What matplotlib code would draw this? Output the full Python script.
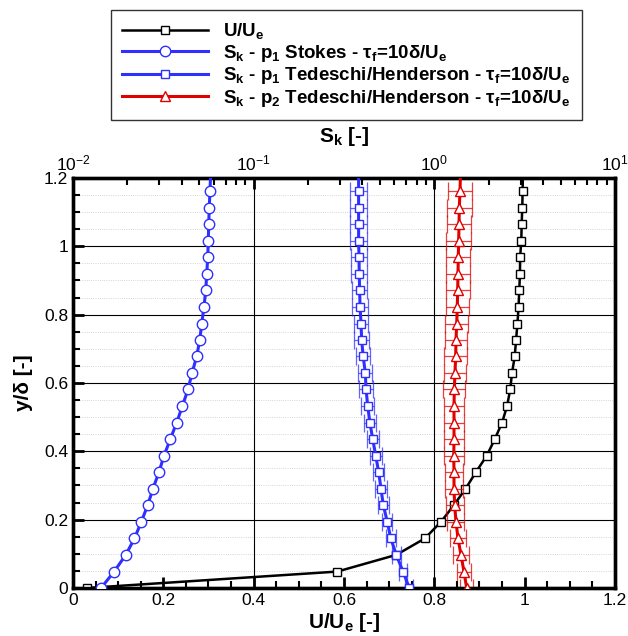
import matplotlib
matplotlib.use("Agg")
from matplotlib import pyplot as plt
from matplotlib.ticker import MultipleLocator, FuncFormatter, LogLocator
import numpy as np

plt.rcParams['font.family'] = ['Liberation Sans', 'DejaVu Sans']
plt.rcParams['mathtext.fontset'] = 'custom'
plt.rcParams['mathtext.rm'] = 'Liberation Sans'
plt.rcParams['mathtext.bf'] = 'Liberation Sans:bold'
plt.rcParams['mathtext.it'] = 'Liberation Sans:italic'

# wall-normal positions y/delta (last point only carries the line to the top)
y_delta = [0.0, 0.048, 0.097, 0.145, 0.194, 0.242, 0.290, 0.339, 0.387, 0.436,
           0.484, 0.532, 0.581, 0.629, 0.678, 0.726, 0.774, 0.823, 0.871, 0.920,
           0.968, 1.016, 1.065, 1.113, 1.162, 1.210]

# mean velocity U/Ue
u_ue = [0.031, 0.585, 0.716, 0.779, 0.815, 0.843, 0.869, 0.892, 0.916, 0.934,
        0.950, 0.961, 0.968, 0.972, 0.978, 0.981, 0.984, 0.9865, 0.988, 0.9896,
        0.990, 0.9925, 0.9934, 0.9947, 0.9955, 0.996]

# Stokes number, p1, Stokes drag
sk_p1_stokes = [0.0143, 0.0169, 0.0196, 0.0219, 0.0239, 0.0259, 0.0277, 0.0299,
                0.0319, 0.0346, 0.0375, 0.0403, 0.0433, 0.0456, 0.0484, 0.0503,
                0.0516, 0.0531, 0.0543, 0.0550, 0.0557, 0.0561, 0.0564, 0.0568,
                0.0573, 0.0578]

# Stokes number, p1, Tedeschi/Henderson (error half-width in decades)
sk_p1_ted = [0.727, 0.671, 0.616, 0.574, 0.549, 0.522, 0.507, 0.492, 0.474,
             0.456, 0.440, 0.428, 0.419, 0.415, 0.404, 0.396, 0.393, 0.388,
             0.386, 0.384, 0.383, 0.381, 0.381, 0.381, 0.381, 0.381]
err_p1_ted = [0.022, 0.023, 0.025, 0.027, 0.028, 0.030, 0.031, 0.032, 0.033,
              0.034, 0.035, 0.036, 0.037, 0.038, 0.039, 0.040, 0.041, 0.042,
              0.043, 0.044, 0.045, 0.046, 0.046, 0.047, 0.047, 0.047]

# Stokes number, p2, Tedeschi/Henderson
sk_p2_ted = [1.510, 1.459, 1.405, 1.352, 1.318, 1.296, 1.285, 1.285, 1.281,
             1.285, 1.285, 1.285, 1.290, 1.301, 1.313, 1.318, 1.330, 1.340,
             1.347, 1.352, 1.357, 1.364, 1.370, 1.375, 1.387, 1.395]
err_p2_ted = [0.035, 0.040, 0.042, 0.045, 0.047, 0.050, 0.050, 0.052, 0.054,
              0.055, 0.056, 0.058, 0.060, 0.060, 0.062, 0.063, 0.064, 0.065,
              0.066, 0.066, 0.067, 0.068, 0.068, 0.068, 0.068, 0.068]

BLUE = '#2F2FFF'
RED = '#E00000'
shown = slice(0, 25)

fig = plt.figure(figsize=(6.28, 6.36), dpi=100)
ax = fig.add_axes([0.1162, 0.0755, 0.8631, 0.6447])
ax2 = ax.twiny()

ax.plot(u_ue, y_delta, color='black', lw=1.8, marker='s', ms=6, mfc='white',
        mec='black', mew=1.0, markevery=shown, zorder=3, label='U/U$_{\\mathbf{e}}$')

s1 = np.array(sk_p1_stokes)
ax2.plot(s1, y_delta, color=BLUE, lw=2.2, marker='o', ms=7.5, mfc='white',
         mec=BLUE, mew=1.0, markevery=shown, zorder=3,
         label='S$_{\\mathbf{k}}$ - p$_{\\mathbf{1}}$ Stokes - τ$_{\\mathbf{f}}$=10δ/U$_{\\mathbf{e}}$')

for s, e, col, mk, ms, lab in [
        (sk_p1_ted, err_p1_ted, BLUE, 's', 6,
         'S$_{\\mathbf{k}}$ - p$_{\\mathbf{1}}$ Tedeschi/Henderson - τ$_{\\mathbf{f}}$=10δ/U$_{\\mathbf{e}}$'),
        (sk_p2_ted, err_p2_ted, RED, '^', 7,
         'S$_{\\mathbf{k}}$ - p$_{\\mathbf{2}}$ Tedeschi/Henderson - τ$_{\\mathbf{f}}$=10δ/U$_{\\mathbf{e}}$')]:
    s = np.array(s)
    fac = 10 ** np.array(e)
    xerr = [s - s / fac, s * fac - s]
    ax2.errorbar(s[shown], np.array(y_delta)[shown],
                 xerr=[xerr[0][shown], xerr[1][shown]], fmt='none',
                 ecolor=col, elinewidth=0.9, capsize=6.3, capthick=0.9,
                 alpha=0.75, zorder=2)
    ax2.plot(s, y_delta, color=col, lw=2.2, marker=mk, ms=ms, mfc='white',
             mec=col, mew=1.0, markevery=shown, zorder=3, label=lab)

# bottom / left axes
ax.set_xlim(0, 1.2)
ax.set_ylim(0, 1.2)
fmt = FuncFormatter(lambda v, p: '%g' % round(v, 2))
ax.xaxis.set_major_locator(MultipleLocator(0.2))
ax.xaxis.set_minor_locator(MultipleLocator(0.05))
ax.yaxis.set_major_locator(MultipleLocator(0.2))
ax.yaxis.set_minor_locator(MultipleLocator(0.05))
ax.xaxis.set_major_formatter(fmt)
ax.yaxis.set_major_formatter(fmt)
ax.tick_params(which='both', direction='in', top=False, right=False,
               labelsize=12.5, width=1.5)
ax.tick_params(which='major', length=8, width=2)
ax.tick_params(which='minor', length=5)
ax.grid(axis='y', which='major', color='black', lw=0.8)
ax.grid(axis='y', which='minor', color='#C8C8C8', lw=0.6, ls=':')
ax.set_axisbelow(True)
ax.set_xlabel('U/U$_{\\mathbf{e}}$ [-]', fontsize=15, fontweight='bold', labelpad=2)
ax.set_ylabel('y/δ [-]', fontsize=15, fontweight='bold', labelpad=8)

# top log axis
ax2.set_xscale('log')
ax2.set_xlim(1e-2, 1e1)
ax2.xaxis.set_major_locator(LogLocator(base=10))
ax2.xaxis.set_minor_locator(LogLocator(base=10, subs=np.arange(2, 10)))
ax2.tick_params(which='both', direction='in', labelsize=12.5, width=1.5)
ax2.tick_params(which='major', length=8, width=2)
ax2.tick_params(which='minor', length=5)
ax2.grid(axis='x', which='major', color='black', lw=0.8)
ax2.set_xlabel('S$_{\\mathbf{k}}$ [-]', fontsize=15, fontweight='bold', labelpad=8)

for a in (ax, ax2):
    for sp in a.spines.values():
        sp.set_linewidth(2.4)

h1, l1 = ax.get_legend_handles_labels()
h2, l2 = ax2.get_legend_handles_labels()
leg = fig.legend(h1 + h2, l1 + l2, loc='upper left',
                 bbox_to_anchor=(111 / 628, 1 - 10 / 636), borderaxespad=0,
                 prop={'weight': 'bold', 'size': 13.5}, frameon=True, fancybox=False,
                 edgecolor='black', handlelength=4.6, handletextpad=0.8,
                 labelspacing=0.08, borderpad=0.6, markerfirst=True)
leg.get_frame().set_linewidth(1.0)

fig.savefig('out.png', dpi=100)
